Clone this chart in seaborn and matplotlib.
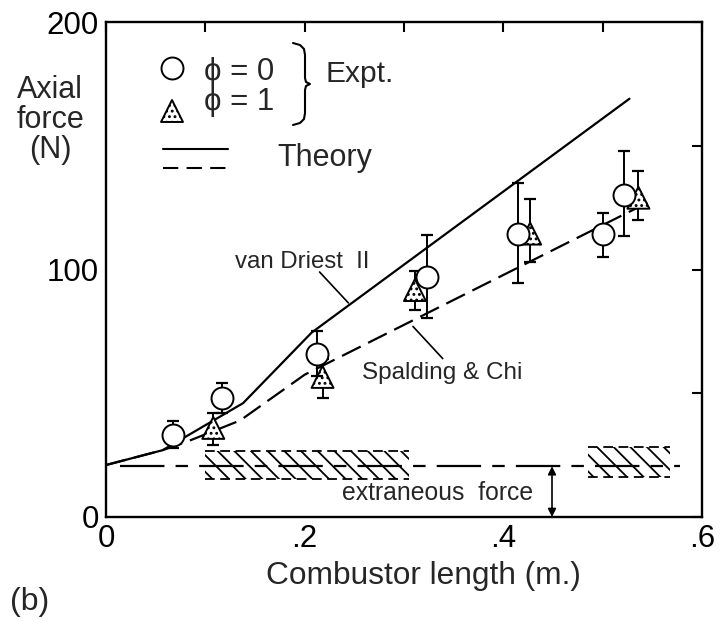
import numpy as np
import pandas as pd
import matplotlib
matplotlib.use("Agg")
import matplotlib.pyplot as plt
import seaborn as sns

# ---------------- data ----------------
# Experiment, phi = 0 (open circles)
x_phi0 = [0.067, 0.117, 0.212, 0.323, 0.415, 0.500, 0.521]
y_phi0 = [33.0, 48.0, 66.0, 97.0, 114.5, 114.3, 130.0]
lo_phi0 = [28.0, 42.0, 57.0, 80.4, 94.5, 105.0, 113.5]
hi_phi0 = [38.8, 54.0, 75.0, 114.0, 135.0, 123.0, 148.0]

# Experiment, phi = 1 (stippled triangles)
x_phi1 = [0.108, 0.218, 0.311, 0.427, 0.536]
y_phi1 = [36.0, 56.6, 91.7, 114.5, 129.0]
lo_phi1 = [29.0, 48.0, 83.6, 103.0, 120.0]
hi_phi1 = [42.0, 64.0, 99.4, 128.5, 140.0]

# Theory: van Driest II (solid)
x_vd = [0.0, 0.057, 0.138, 0.207, 0.527]
y_vd = [21.0, 27.0, 46.0, 74.5, 169.0]

# Theory: Spalding & Chi (dashed)
x_sc = [0.0, 0.057, 0.085, 0.135, 0.200, 0.550]
y_sc = [21.0, 27.0, 31.0, 39.0, 57.5, 128.0]

# Extraneous force level and its uncertainty bands
x_extr = [0.014, 0.578]
y_extr = [20.5, 20.5]
band_x0 = [0.100, 0.485]
band_x1 = [0.305, 0.568]
band_lo = [15.4, 16.2]
band_hi = [26.7, 28.3]
arrow_x = 0.449

xtick_vals = [0.0, 0.1, 0.2, 0.3, 0.4, 0.5, 0.6]
xtick_labels = ["0", "", ".2", "", ".4", "", ".6"]
ytick_vals = [0, 50, 100, 150, 200]
ytick_labels = ["0", "", "100", "", "200"]

# ---------------- style ----------------
sns.set_theme(style="white")
plt.rcParams["font.family"] = ["Liberation Sans", "DejaVu Sans"]
plt.rcParams["lines.scale_dashes"] = False
plt.rcParams["hatch.linewidth"] = 1.3
plt.rcParams["hatch.color"] = "black"
plt.rcParams["axes.edgecolor"] = "black"

W, H = 728, 621
fig = plt.figure(figsize=(W / 100, H / 100), dpi=100)
L, R, T, B = 106, 702, 22, 517
ax = fig.add_axes([L / W, 1 - B / H, (R - L) / W, (B - T) / H])


def fx(px):
    return (px - L) / (R - L)


def fy(py):
    return (B - py) / (B - T)


# ---------------- theory lines ----------------
df_vd = pd.DataFrame({"x": x_vd, "y": y_vd})
df_sc = pd.DataFrame({"x": x_sc, "y": y_sc})
sns.lineplot(data=df_vd, x="x", y="y", ax=ax, color="black", lw=1.6, zorder=2)
sns.lineplot(data=df_sc, x="x", y="y", ax=ax, color="black", lw=1.6,
             linestyle=(0, (15, 6)), zorder=2)

# extraneous force line
sns.lineplot(x=x_extr, y=y_extr, ax=ax, color="black", lw=1.6,
             linestyle=(0, (32, 8, 9, 8)), zorder=2)

# hatched bands
for x0, x1, lo, hi in zip(band_x0, band_x1, band_lo, band_hi):
    ax.fill_between([x0, x1], lo, hi, facecolor="none", edgecolor="black",
                    hatch="\\\\", linewidth=0, zorder=1)
    ax.plot([x0, x1], [hi, hi], color="black", lw=1.3, linestyle=(0, (7, 4)), zorder=2)
    ax.plot([x0, x1], [lo, lo], color="black", lw=1.3, linestyle=(0, (7, 4)), zorder=2)

# arrow for extraneous force
ax.annotate("", xy=(arrow_x, y_extr[0]), xytext=(arrow_x, 0),
            arrowprops=dict(arrowstyle="<|-|>", color="black", lw=1.2,
                            mutation_scale=12, shrinkA=0, shrinkB=0))

# ---------------- experimental points ----------------
y0 = np.array(y_phi0)
y1 = np.array(y_phi1)
ax.errorbar(x_phi1, y1, yerr=[y1 - np.array(lo_phi1), np.array(hi_phi1) - y1],
            fmt="none", ecolor="black", elinewidth=1.4, capsize=4.5, capthick=1.6, zorder=3)
sns.scatterplot(x=x_phi1, y=y_phi1, ax=ax, marker="^", s=250, color="white",
                edgecolor="black", linewidth=1.4, hatch="...", zorder=4)
ax.errorbar(x_phi0, y0, yerr=[y0 - np.array(lo_phi0), np.array(hi_phi0) - y0],
            fmt="none", ecolor="black", elinewidth=1.4, capsize=4.5, capthick=1.6, zorder=5)
sns.scatterplot(x=x_phi0, y=y_phi0, ax=ax, marker="o", s=250, color="white",
                edgecolor="black", linewidth=1.4, zorder=6)

# ---------------- annotations ----------------
ax.text(0.130, 103, "van Driest  II", fontsize=17.3, va="center", ha="left")
ax.annotate("", xy=(0.244, 86.5), xytext=(0.215, 99),
            arrowprops=dict(arrowstyle="-", color="black", lw=1.2, shrinkA=0, shrinkB=0))
ax.text(0.258, 58, "Spalding & Chi", fontsize=17.5, va="center", ha="left")
ax.annotate("", xy=(0.309, 77), xytext=(0.339, 64),
            arrowprops=dict(arrowstyle="-", color="black", lw=1.2, shrinkA=0, shrinkB=0))
ax.text(0.238, 9.5, "extraneous  force", fontsize=17.8, va="center", ha="left")

# ---------------- in-plot legend ----------------
tr = ax.transAxes
ax.scatter([fx(172)], [fy(68)], s=250, marker="o", facecolor="white",
           edgecolor="black", linewidth=1.4, transform=tr, clip_on=False, zorder=6)
ax.scatter([fx(172)], [fy(111)], s=250, marker="^", facecolor="white",
           edgecolor="black", linewidth=1.4, hatch="...", transform=tr,
           clip_on=False, zorder=6)
ax.text(fx(204), fy(72), "ϕ = 0", fontsize=22.5, va="center", ha="left", transform=tr)
ax.text(fx(204), fy(102), "ϕ = 1", fontsize=22.5, va="center", ha="left", transform=tr)
brace_px = [(293, 43), (300, 45), (304, 49), (305, 55), (305, 78), (306, 82),
            (310, 84), (306, 86), (305, 90), (305, 113), (304, 119), (300, 123),
            (293, 125)]
ax.plot([fx(p[0]) for p in brace_px], [fy(p[1]) for p in brace_px],
        color="black", lw=1.5, transform=tr, clip_on=False)
ax.text(fx(325), fy(74), "Expt.", fontsize=21.5, va="center", ha="left", transform=tr)
ax.plot([fx(163), fx(228)], [fy(149), fy(149)], color="black", lw=1.5, transform=tr)
ax.plot([fx(163), fx(228)], [fy(168), fy(168)], color="black", lw=1.5,
        linestyle=(0, (11, 6)), transform=tr)
ax.text(fx(277), fy(158), "Theory", fontsize=22, va="center", ha="left", transform=tr)

# ---------------- axes ----------------
ax.set_xlim(0, 0.6)
ax.set_ylim(0, 200)
ax.set_xticks(xtick_vals)
ax.set_xticklabels(xtick_labels)
ax.set_yticks(ytick_vals)
ax.set_yticklabels(ytick_labels)
ax.tick_params(direction="in", length=7, width=1.5, top=True, right=True,
               labelsize=22.5, pad=5, colors="black")
for s in ax.spines.values():
    s.set_linewidth(1.7)
    s.set_color("black")
ax.set_xlabel("")
ax.set_ylabel("")

fig.text(423 / W, 1 - 576 / H, "Combustor length (m.)", fontsize=22.8,
         ha="center", va="center")
fig.text(50 / W, 1 - 120 / H, "Axial\nforce\n(N)", fontsize=22, ha="center",
         va="center", linespacing=1.0)
fig.text(10 / W, 1 - 602 / H, "(b)", fontsize=23, ha="left", va="center")

fig.savefig("out.png", dpi=100, facecolor="white")
